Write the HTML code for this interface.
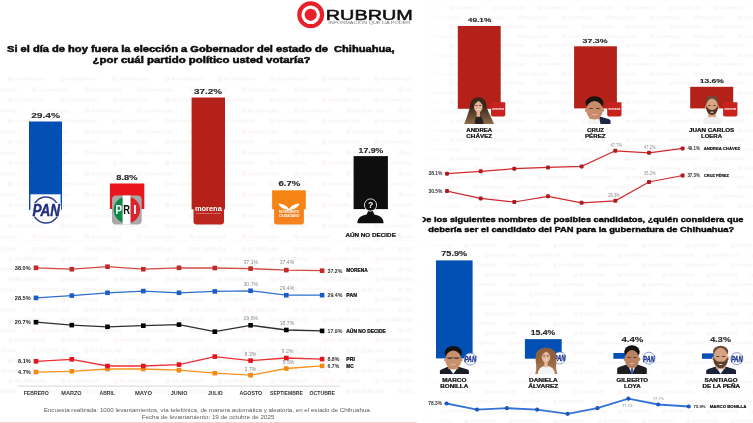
<!DOCTYPE html>
<html lang="es"><head><meta charset="utf-8"><title>Rubrum - Encuesta Chihuahua</title>
<style>html,body{margin:0;padding:0;background:#fff;}body{width:753px;height:423px;overflow:hidden;font-family:"Liberation Sans", sans-serif;}svg{display:block;font-family:"Liberation Sans", sans-serif;}</style>
</head><body>
<svg width="753" height="423" viewBox="0 0 753 423">
<defs>
<g id="wm"><circle cx="2.5" cy="0" r="1.9" fill="none" stroke="#f8d3d3" stroke-width="0.9"/><circle cx="2.5" cy="0" r="0.5" fill="#f8d3d3"/><text x="6.6" y="1.6" font-size="4.4" font-weight="normal" fill="#eadede" textLength="30.8" lengthAdjust="spacingAndGlyphs">RUBRUM</text></g>
<pattern id="wmL" x="0" y="68.5" width="52.4" height="21" patternUnits="userSpaceOnUse"><use href="#wm" x="7.4" y="10.5"/><use href="#wm" x="31.8" y="21"/><use href="#wm" x="31.8" y="0"/><use href="#wm" x="-20.6" y="21"/><use href="#wm" x="-20.6" y="0"/></pattern>
<pattern id="wmL2" x="0" y="310.15" width="52.4" height="20.3" patternUnits="userSpaceOnUse"><use href="#wm" x="8.2" y="10.15"/><use href="#wm" x="31.5" y="20.3"/><use href="#wm" x="31.5" y="0"/><use href="#wm" x="-20.9" y="20.3"/><use href="#wm" x="-20.9" y="0"/></pattern>
<pattern id="wmRT" x="581.5" y="3.285" width="44" height="18.86" patternUnits="userSpaceOnUse"><g transform="scale(0.84)"><use href="#wm" x="0" y="5.61"/><use href="#wm" x="28.7" y="16.84"/><use href="#wm" x="-23.7" y="16.84"/></g></pattern>
<pattern id="wmRB" x="597.5" y="241.1" width="44.4" height="19.5" patternUnits="userSpaceOnUse"><g transform="scale(0.84)"><use href="#wm" x="0" y="5.8"/><use href="#wm" x="24.2" y="17.4"/><use href="#wm" x="-28.7" y="17.4"/></g></pattern>
<linearGradient id="gPan" x1="0" x2="1" y1="0" y2="0"><stop offset="0" stop-color="#1558bd"/><stop offset="0.6" stop-color="#1551b0"/><stop offset="1" stop-color="#17479a"/></linearGradient>
<linearGradient id="fadeL" x1="0" x2="1" y1="0" y2="0"><stop offset="0" stop-color="#fff" stop-opacity="1"/><stop offset="1" stop-color="#fff" stop-opacity="0"/></linearGradient>
</defs>
<rect width="753" height="423" fill="#ffffff"/>
<rect x="0" y="72" width="414" height="168" fill="url(#wmL)" opacity="0.5"/>
<rect x="0" y="240" width="414" height="156" fill="url(#wmL2)" opacity="0.5"/>
<rect x="420" y="0" width="333" height="212" fill="url(#wmRT)" opacity="0.5"/>
<rect x="420" y="238" width="333" height="185" fill="url(#wmRB)" opacity="0.5"/>
<rect x="420" y="0" width="34" height="423" fill="url(#fadeL)"/>
<circle cx="310.7" cy="14.8" r="11.4" fill="none" stroke="#e8202a" stroke-width="4.2"/>
<circle cx="310.7" cy="14.8" r="6.1" fill="#e8202a"/>
<text x="325.8" y="19.6" font-size="14.4" font-weight="normal" text-anchor="start" fill="#111" stroke="#111" stroke-width="0.5" textLength="87" lengthAdjust="spacingAndGlyphs">RUBRUM</text>
<text x="328.3" y="24.3" font-size="3.4" font-weight="normal" text-anchor="start" fill="#777" textLength="82" lengthAdjust="spacingAndGlyphs">INFORMACIÓN QUE DA PODER</text>
<text x="7" y="51.9" font-size="9.1" font-weight="bold" text-anchor="start" fill="#0c0c0c" stroke="#0c0c0c" stroke-width="0.5" textLength="387.5" lengthAdjust="spacingAndGlyphs" xml:space="preserve">Si el día de hoy fuera la elección a Gobernador del estado de  Chihuahua,</text>
<text x="92.5" y="62.8" font-size="9.1" font-weight="bold" text-anchor="start" fill="#0c0c0c" stroke="#0c0c0c" stroke-width="0.5" textLength="218" lengthAdjust="spacingAndGlyphs">¿por cuál partido político usted votaría?</text>
<rect x="29" y="121.5" width="33" height="88.3" fill="#0350b5"/><rect x="29" y="121.5" width="0.8" height="88.3" fill="#134a95"/>
<path d="M30.4 194.3H60.600V210.5H30.4Z" fill="#ffffff"/>
<circle cx="45.9" cy="210.1" r="13" fill="none" stroke="#2b3f8e" stroke-width="1.5"/>
<rect x="31.5" y="203" width="29.6" height="13.6" fill="#fff"/>
<text x="32.5" y="216.1" font-size="17.2" font-weight="bold" text-anchor="start" fill="#232e80" stroke="#232e80" stroke-width="0.5" textLength="27.6" lengthAdjust="spacingAndGlyphs" font-style="italic">PAN</text>
<text x="31.2" y="117.6" font-size="7.0" font-weight="bold" text-anchor="start" fill="#2a2a2a" stroke="#2a2a2a" stroke-width="0.12" textLength="28.9" lengthAdjust="spacingAndGlyphs">29.4%</text>
<rect x="109.9" y="183.5" width="34.4" height="25.5" fill="#e8161c"/>
<clipPath id="cPri"><circle cx="126.9" cy="209.8" r="13.2"/></clipPath>
<rect x="112" y="195.5" width="29.7" height="29" rx="4" fill="#a8a8a8"/>
<g clip-path="url(#cPri)"><rect x="112" y="195" width="11" height="30" fill="#0c8a48"/><rect x="130.4" y="195" width="12" height="30" fill="#d9252b"/></g>
<rect x="122.6" y="195.5" width="7.8" height="29" fill="#ffffff"/>
<text x="115.4" y="214.2" font-size="12" font-weight="bold" text-anchor="start" fill="#fff" textLength="6.6" lengthAdjust="spacingAndGlyphs">P</text>
<text x="123.2" y="214.2" font-size="12" font-weight="bold" text-anchor="start" fill="#111" textLength="6.8" lengthAdjust="spacingAndGlyphs">R</text>
<text x="133.2" y="214.2" font-size="12" font-weight="bold" text-anchor="start" fill="#fff" textLength="3.4" lengthAdjust="spacingAndGlyphs">I</text>
<text x="116.2" y="179.7" font-size="7.0" font-weight="bold" text-anchor="start" fill="#2a2a2a" stroke="#2a2a2a" stroke-width="0.12" textLength="21.3" lengthAdjust="spacingAndGlyphs">8.8%</text>
<rect x="191.6" y="97.5" width="33.4" height="111.8" fill="#b42118"/>
<path d="M193.5 209H224V221.400a3 3 0 0 1 -3 3H196.500a3 3 0 0 1 -3 -3Z" fill="#bb271f"/>
<text x="194.9" y="211.1" font-size="7.6" font-weight="bold" text-anchor="start" fill="#fff" textLength="26.9" lengthAdjust="spacingAndGlyphs">morena</text>
<text x="196.2" y="213.8" font-size="2.0" font-weight="normal" text-anchor="start" fill="#f3d6d4" textLength="24.4" lengthAdjust="spacingAndGlyphs">La esperanza de México</text>
<text x="194" y="93.5" font-size="7.0" font-weight="bold" text-anchor="start" fill="#2a2a2a" stroke="#2a2a2a" stroke-width="0.12" textLength="28" lengthAdjust="spacingAndGlyphs">37.2%</text>
<rect x="272.1" y="190.3" width="33.7" height="19" fill="#f68414"/>
<path d="M274.1 209H303.900V222a2.500 2.500 0 0 1 -2.500 2.500H276.600a2.500 2.500 0 0 1 -2.500 -2.500Z" fill="#f5821f"/>
<path d="M278.400 203.400c3.500 0.200 6.600 1.300 8.400 3.100l2.200 2.600 2.200-2.600c1.800-1.800 4.900-2.900 8.400-3.100-1.200 3.200-4.400 5.700-8 6.200l-2.600 0.300-2.600-0.300c-3.600-0.500-6.800-3-8-6.200z" fill="#fff"/>
<text x="279" y="213.3" font-size="2.6" font-weight="bold" text-anchor="start" fill="#fff" textLength="20.2" lengthAdjust="spacingAndGlyphs">MOVIMIENTO</text>
<text x="279" y="216.9" font-size="3.1" font-weight="bold" text-anchor="start" fill="#fff" textLength="20.2" lengthAdjust="spacingAndGlyphs">CIUDADANO</text>
<text x="278.4" y="186.4" font-size="7.0" font-weight="bold" text-anchor="start" fill="#2a2a2a" stroke="#2a2a2a" stroke-width="0.12" textLength="21.9" lengthAdjust="spacingAndGlyphs">6.7%</text>
<rect x="353.6" y="156.100" width="34.3" height="53" fill="#0e0e0e"/>
<path d="M357.400 223.300c0-5.800 4.200-7.800 9.200-8.800l1.600-3.500h4.600l1.600 3.500c5 1 9.200 3 9.200 8.800z" fill="#0e0e0e"/>
<circle cx="370.500" cy="205" r="6.100" fill="#0e0e0e" stroke="#ffffff" stroke-width="0.8"/>
<text x="370.5" y="208.2" font-size="8.6" font-weight="bold" text-anchor="middle" fill="#fff">?</text>
<text x="358.6" y="152.5" font-size="7.0" font-weight="bold" text-anchor="start" fill="#2a2a2a" stroke="#2a2a2a" stroke-width="0.12" textLength="24.8" lengthAdjust="spacingAndGlyphs">17.9%</text>
<text x="345.4" y="237.0" font-size="5.8" font-weight="bold" text-anchor="start" fill="#111" stroke="#111" stroke-width="0.2" textLength="50.5" lengthAdjust="spacingAndGlyphs">AÚN NO DECIDE</text>
<line x1="17.5" y1="386.1" x2="340" y2="386.1" stroke="#cdcdcd" stroke-width="0.8"/>
<polyline points="36.0,267.8 71.8,269.2 107.5,266.7 143.3,269.2 179.0,267.8 214.8,268.0 250.6,268.6 286.3,270.1 322.1,270.7" fill="none" stroke="#d24a45" stroke-width="1.3"/>
<rect x="33.7" y="265.5" width="4.6" height="4.6" fill="#bf2a2a"/>
<rect x="69.5" y="266.9" width="4.6" height="4.6" fill="#bf2a2a"/>
<rect x="105.2" y="264.4" width="4.6" height="4.6" fill="#bf2a2a"/>
<rect x="141.0" y="266.9" width="4.6" height="4.6" fill="#bf2a2a"/>
<rect x="176.7" y="265.5" width="4.6" height="4.6" fill="#bf2a2a"/>
<rect x="212.5" y="265.7" width="4.6" height="4.6" fill="#bf2a2a"/>
<rect x="248.3" y="266.3" width="4.6" height="4.6" fill="#bf2a2a"/>
<rect x="284.0" y="267.8" width="4.6" height="4.6" fill="#bf2a2a"/>
<rect x="319.8" y="268.4" width="4.6" height="4.6" fill="#bf2a2a"/>
<polyline points="36.0,297.9 71.8,295.6 107.5,292.8 143.3,291.1 179.0,292.8 214.8,291.4 250.6,290.8 286.3,295.2 322.1,295.2" fill="none" stroke="#2f6fd0" stroke-width="1.3"/>
<rect x="33.7" y="295.6" width="4.6" height="4.6" fill="#1a5cc4"/>
<rect x="69.5" y="293.3" width="4.6" height="4.6" fill="#1a5cc4"/>
<rect x="105.2" y="290.5" width="4.6" height="4.6" fill="#1a5cc4"/>
<rect x="141.0" y="288.8" width="4.6" height="4.6" fill="#1a5cc4"/>
<rect x="176.7" y="290.5" width="4.6" height="4.6" fill="#1a5cc4"/>
<rect x="212.5" y="289.1" width="4.6" height="4.6" fill="#1a5cc4"/>
<rect x="248.3" y="288.5" width="4.6" height="4.6" fill="#1a5cc4"/>
<rect x="284.0" y="292.9" width="4.6" height="4.6" fill="#1a5cc4"/>
<rect x="319.8" y="292.9" width="4.6" height="4.6" fill="#1a5cc4"/>
<polyline points="36.0,322.2 71.8,325.1 107.5,326.8 143.3,325.7 179.0,324.6 214.8,331.7 250.6,325.3 286.3,330.0 322.1,330.9" fill="none" stroke="#2e2e2e" stroke-width="1.3"/>
<rect x="33.7" y="319.9" width="4.6" height="4.6" fill="#000000"/>
<rect x="69.5" y="322.8" width="4.6" height="4.6" fill="#000000"/>
<rect x="105.2" y="324.5" width="4.6" height="4.6" fill="#000000"/>
<rect x="141.0" y="323.4" width="4.6" height="4.6" fill="#000000"/>
<rect x="176.7" y="322.3" width="4.6" height="4.6" fill="#000000"/>
<rect x="212.5" y="329.4" width="4.6" height="4.6" fill="#000000"/>
<rect x="248.3" y="323.0" width="4.6" height="4.6" fill="#000000"/>
<rect x="284.0" y="327.7" width="4.6" height="4.6" fill="#000000"/>
<rect x="319.8" y="328.6" width="4.6" height="4.6" fill="#000000"/>
<polyline points="36.0,372.1 71.8,371.3 107.5,369.0 143.3,369.0 179.0,370.2 214.8,373.2 250.6,375.2 286.3,368.5 322.1,365.9" fill="none" stroke="#f7941d" stroke-width="1.3"/>
<rect x="33.7" y="369.8" width="4.6" height="4.6" fill="#f58a12"/>
<rect x="69.5" y="369.0" width="4.6" height="4.6" fill="#f58a12"/>
<rect x="105.2" y="366.7" width="4.6" height="4.6" fill="#f58a12"/>
<rect x="141.0" y="366.7" width="4.6" height="4.6" fill="#f58a12"/>
<rect x="176.7" y="367.9" width="4.6" height="4.6" fill="#f58a12"/>
<rect x="212.5" y="370.9" width="4.6" height="4.6" fill="#f58a12"/>
<rect x="248.3" y="372.9" width="4.6" height="4.6" fill="#f58a12"/>
<rect x="284.0" y="366.2" width="4.6" height="4.6" fill="#f58a12"/>
<rect x="319.8" y="363.6" width="4.6" height="4.6" fill="#f58a12"/>
<polyline points="36.0,361.3 71.8,359.3 107.5,366.0 143.3,366.0 179.0,364.6 214.8,356.6 250.6,360.6 286.3,358.0 322.1,359.1" fill="none" stroke="#ee2e36" stroke-width="1.3"/>
<rect x="33.7" y="359.0" width="4.6" height="4.6" fill="#e3141e"/>
<rect x="69.5" y="357.0" width="4.6" height="4.6" fill="#e3141e"/>
<rect x="105.2" y="363.7" width="4.6" height="4.6" fill="#e3141e"/>
<rect x="141.0" y="363.7" width="4.6" height="4.6" fill="#e3141e"/>
<rect x="176.7" y="362.3" width="4.6" height="4.6" fill="#e3141e"/>
<rect x="212.5" y="354.3" width="4.6" height="4.6" fill="#e3141e"/>
<rect x="248.3" y="358.3" width="4.6" height="4.6" fill="#e3141e"/>
<rect x="284.0" y="355.7" width="4.6" height="4.6" fill="#e3141e"/>
<rect x="319.8" y="356.8" width="4.6" height="4.6" fill="#e3141e"/>
<text x="14.8" y="269.7" font-size="5.2" font-weight="bold" text-anchor="start" fill="#222" textLength="15.8" lengthAdjust="spacingAndGlyphs">38.0%</text>
<text x="14.8" y="299.79999999999995" font-size="5.2" font-weight="bold" text-anchor="start" fill="#222" textLength="15.8" lengthAdjust="spacingAndGlyphs">28.5%</text>
<text x="14.8" y="324.09999999999997" font-size="5.2" font-weight="bold" text-anchor="start" fill="#222" textLength="15.8" lengthAdjust="spacingAndGlyphs">20.7%</text>
<text x="18" y="363.2" font-size="5.2" font-weight="bold" text-anchor="start" fill="#222" textLength="12.7" lengthAdjust="spacingAndGlyphs">8.1%</text>
<text x="18" y="374.0" font-size="5.2" font-weight="bold" text-anchor="start" fill="#222" textLength="12.7" lengthAdjust="spacingAndGlyphs">4.7%</text>
<text x="243.5" y="263.8" font-size="5.6" font-weight="normal" text-anchor="start" fill="#8a8a8a" textLength="14.6" lengthAdjust="spacingAndGlyphs">37.1%</text>
<text x="279.7" y="264.2" font-size="5.6" font-weight="normal" text-anchor="start" fill="#8a8a8a" textLength="14.6" lengthAdjust="spacingAndGlyphs">37.4%</text>
<text x="243.5" y="285.9" font-size="5.6" font-weight="normal" text-anchor="start" fill="#8a8a8a" textLength="14.6" lengthAdjust="spacingAndGlyphs">30.7%</text>
<text x="279.7" y="290.0" font-size="5.6" font-weight="normal" text-anchor="start" fill="#8a8a8a" textLength="14.6" lengthAdjust="spacingAndGlyphs">29.4%</text>
<text x="243.5" y="319.8" font-size="5.6" font-weight="normal" text-anchor="start" fill="#8a8a8a" textLength="14.6" lengthAdjust="spacingAndGlyphs">19.6%</text>
<text x="279.7" y="325.0" font-size="5.6" font-weight="normal" text-anchor="start" fill="#8a8a8a" textLength="14.6" lengthAdjust="spacingAndGlyphs">18.7%</text>
<text x="244.6" y="356.0" font-size="5.6" font-weight="normal" text-anchor="start" fill="#8a8a8a" textLength="11.8" lengthAdjust="spacingAndGlyphs">8.3%</text>
<text x="281.6" y="352.8" font-size="5.6" font-weight="normal" text-anchor="start" fill="#8a8a8a" textLength="11.8" lengthAdjust="spacingAndGlyphs">9.2%</text>
<text x="244.6" y="370.8" font-size="5.6" font-weight="normal" text-anchor="start" fill="#8a8a8a" textLength="11.8" lengthAdjust="spacingAndGlyphs">3.7%</text>
<text x="282.6" y="364.4" font-size="5.6" font-weight="normal" text-anchor="start" fill="#8a8a8a" textLength="11.8" lengthAdjust="spacingAndGlyphs">5.5%</text>
<text x="327.5" y="272.9" font-size="6.0" font-weight="bold" text-anchor="start" fill="#333" textLength="14.9" lengthAdjust="spacingAndGlyphs">37.2%</text>
<text x="346.3" y="272.4" font-size="4.8" font-weight="bold" text-anchor="start" fill="#0a0a0a" stroke="#0a0a0a" stroke-width="0.2" textLength="21.4" lengthAdjust="spacingAndGlyphs">MORENA</text>
<text x="327.5" y="297.4" font-size="6.0" font-weight="bold" text-anchor="start" fill="#333" textLength="14.9" lengthAdjust="spacingAndGlyphs">29.4%</text>
<text x="346.3" y="296.9" font-size="4.8" font-weight="bold" text-anchor="start" fill="#0a0a0a" stroke="#0a0a0a" stroke-width="0.2" textLength="10.6" lengthAdjust="spacingAndGlyphs">PAN</text>
<text x="327.5" y="333.09999999999997" font-size="6.0" font-weight="bold" text-anchor="start" fill="#333" textLength="14.9" lengthAdjust="spacingAndGlyphs">17.9%</text>
<text x="346.3" y="332.59999999999997" font-size="4.8" font-weight="bold" text-anchor="start" fill="#0a0a0a" stroke="#0a0a0a" stroke-width="0.2" textLength="39.5" lengthAdjust="spacingAndGlyphs">AÚN NO DECIDE</text>
<text x="327.5" y="361.3" font-size="6.0" font-weight="bold" text-anchor="start" fill="#333" textLength="11.9" lengthAdjust="spacingAndGlyphs">8.8%</text>
<text x="346.3" y="360.8" font-size="4.8" font-weight="bold" text-anchor="start" fill="#0a0a0a" stroke="#0a0a0a" stroke-width="0.2" textLength="8.5" lengthAdjust="spacingAndGlyphs">PRI</text>
<text x="327.5" y="368.09999999999997" font-size="6.0" font-weight="bold" text-anchor="start" fill="#333" textLength="11.9" lengthAdjust="spacingAndGlyphs">6.7%</text>
<text x="346.3" y="367.59999999999997" font-size="4.8" font-weight="bold" text-anchor="start" fill="#0a0a0a" stroke="#0a0a0a" stroke-width="0.2" textLength="7.2" lengthAdjust="spacingAndGlyphs">MC</text>
<text x="23.7" y="395.3" font-size="4.7" font-weight="bold" text-anchor="start" fill="#333" textLength="25.1" lengthAdjust="spacingAndGlyphs">FEBRERO</text>
<text x="61.3" y="395.3" font-size="4.7" font-weight="bold" text-anchor="start" fill="#333" textLength="20.4" lengthAdjust="spacingAndGlyphs">MARZO</text>
<text x="99.5" y="395.3" font-size="4.7" font-weight="bold" text-anchor="start" fill="#333" textLength="15.5" lengthAdjust="spacingAndGlyphs">ABRIL</text>
<text x="135" y="395.3" font-size="4.7" font-weight="bold" text-anchor="start" fill="#333" textLength="17" lengthAdjust="spacingAndGlyphs">MAYO</text>
<text x="170.7" y="395.3" font-size="4.7" font-weight="bold" text-anchor="start" fill="#333" textLength="16.7" lengthAdjust="spacingAndGlyphs">JUNIO</text>
<text x="207.9" y="395.3" font-size="4.7" font-weight="bold" text-anchor="start" fill="#333" textLength="14.9" lengthAdjust="spacingAndGlyphs">JULIO</text>
<text x="239.4" y="395.3" font-size="4.7" font-weight="bold" text-anchor="start" fill="#333" textLength="22.8" lengthAdjust="spacingAndGlyphs">AGOSTO</text>
<text x="270.1" y="395.3" font-size="4.7" font-weight="bold" text-anchor="start" fill="#333" textLength="32.7" lengthAdjust="spacingAndGlyphs">SEPTIEMBRE</text>
<text x="309.6" y="395.3" font-size="4.7" font-weight="bold" text-anchor="start" fill="#333" textLength="25.4" lengthAdjust="spacingAndGlyphs">OCTUBRE</text>
<text x="43.8" y="412.2" font-size="4.6" font-weight="normal" text-anchor="start" fill="#5a5a5a" textLength="327.7" lengthAdjust="spacingAndGlyphs">Encuesta realizada: 1000 levantamientos, vía telefónica, de manera automática y aleatoria, en el estado de Chihuahua.</text>
<text x="141.7" y="419.2" font-size="4.6" font-weight="normal" text-anchor="start" fill="#5a5a5a" textLength="132.8" lengthAdjust="spacingAndGlyphs">Fecha de levantamiento: 19 de octubre de 2025</text>
<rect x="0" y="421.9" width="416.5" height="1.1" fill="#f6d6d4"/>
<rect x="457.8" y="26" width="42.9" height="82.8" fill="#b42118"/>
<path d="M491 102.3h14.3v12.400a1.800 1.800 0 0 1 -1.800 1.800h-10.700a1.800 1.800 0 0 1 -1.800 -1.800z" fill="#c8221f"/>
<text x="492.3" y="109.89999999999999" font-size="3.4" font-weight="bold" text-anchor="start" fill="#fff" textLength="11.8" lengthAdjust="spacingAndGlyphs">morena</text>
<linearGradient id="h464" x1="0" x2="0" y1="0" y2="1"><stop offset="0.35" stop-color="#3b2519"/><stop offset="1" stop-color="#8d6a48"/></linearGradient>
<path d="M464.2 124.1C466.7 117.1 469.3 110.4 470.1 105.9C470.1 94.2 486.5 94.2 486.5 105.9C487.3 110.4 491.5 117.1 494.0 124.1Z" fill="url(#h464)"/>
<path d="M474.6 124.1Q475.1 116.2 478.3 115.2Q483.1 116.2 483.6 124.1Z" fill="#2a2121"/>
<rect x="476.6" y="106.4" width="3.4" height="10.4" fill="#e3b196"/>
<ellipse cx="478.3" cy="106.4" rx="4.3" ry="6.1" fill="#e3b196"/>
<path d="M473.7 107.4Q474.0 100.1 478.3 99.8Q482.6 100.1 482.9 107.4Q481.9 102.7 478.7 101.0Q474.7 102.7 473.7 107.4Z" fill="#3b2519"/>
<rect x="475.5" y="105.2" width="1.9" height="0.8" fill="#3a2a22"/><rect x="479.2" y="105.2" width="1.9" height="0.8" fill="#3a2a22"/>
<path d="M476.2 108.8Q478.3 111.3 480.4 108.8Q478.3 109.9 476.2 108.8Z" fill="#fbf3f0"/>
<text x="467.8" y="22.2" font-size="6.1" font-weight="bold" text-anchor="start" fill="#2a2a2a" stroke="#2a2a2a" stroke-width="0.12" textLength="23.6" lengthAdjust="spacingAndGlyphs">49.1%</text>
<text x="466.3" y="131.8" font-size="4.5" font-weight="bold" text-anchor="start" fill="#111" stroke="#111" stroke-width="0.2" textLength="25.9" lengthAdjust="spacingAndGlyphs">ANDREA</text>
<text x="466.3" y="137.8" font-size="4.5" font-weight="bold" text-anchor="start" fill="#111" stroke="#111" stroke-width="0.2" textLength="25.9" lengthAdjust="spacingAndGlyphs">CHÁVEZ</text>
<rect x="574.100" y="46.3" width="42.8" height="62.1" fill="#b42118"/>
<path d="M607.2 102.3h14.3v12.400a1.800 1.800 0 0 1 -1.800 1.800h-10.700a1.800 1.800 0 0 1 -1.800 -1.800z" fill="#c8221f"/>
<text x="608.5" y="109.89999999999999" font-size="3.4" font-weight="bold" text-anchor="start" fill="#fff" textLength="11.8" lengthAdjust="spacingAndGlyphs">morena</text>
<path d="M587.5 124.1V120.6Q587.8 119.6 589.5 119.1L588.4 116.8H600.7L608.5 119.1Q610.2 119.6 610.5 120.6V124.1Z" fill="#f3f3f3"/>
<path d="M600.5 124.1L599.0 116.8H600.7L608.5 119.1Q610.2 119.6 610.5 120.6V124.1Z" fill="#1f2745"/>
<rect x="589.2" y="110.2" width="10.6" height="8.7" fill="#c88c6a"/>
<ellipse cx="594.5" cy="102.8" rx="9.0" ry="6.5" fill="#17130f"/>
<ellipse cx="585.9" cy="110.2" rx="0.9" ry="1.8" fill="#c88c6a"/><ellipse cx="603.2" cy="110.2" rx="0.9" ry="1.8" fill="#c88c6a"/>
<ellipse cx="594.5" cy="110.2" rx="8.3" ry="9.2" fill="#c88c6a"/>
<rect x="589.4" y="108.1" width="3.5" height="0.8" fill="#3a2a22"/><rect x="596.2" y="108.1" width="3.5" height="0.8" fill="#3a2a22"/>
<path d="M591.2 114.0Q594.5 116.6 597.9 114.0Q594.5 115.2 591.2 114.0Z" fill="#ecd9d0"/>
<text x="582.6" y="42.5" font-size="6.1" font-weight="bold" text-anchor="start" fill="#2a2a2a" stroke="#2a2a2a" stroke-width="0.12" textLength="25.0" lengthAdjust="spacingAndGlyphs">37.3%</text>
<text x="587.1" y="131.8" font-size="4.5" font-weight="bold" text-anchor="start" fill="#111" stroke="#111" stroke-width="0.2" textLength="17.0" lengthAdjust="spacingAndGlyphs">CRUZ</text>
<text x="585" y="137.8" font-size="4.5" font-weight="bold" text-anchor="start" fill="#111" stroke="#111" stroke-width="0.2" textLength="20.5" lengthAdjust="spacingAndGlyphs">PÉREZ</text>
<rect x="690.2" y="86.8" width="43" height="21.6" fill="#b42118"/>
<path d="M723.1 102.3h14.3v12.400a1.800 1.800 0 0 1 -1.800 1.800h-10.700a1.800 1.800 0 0 1 -1.800 -1.800z" fill="#c8221f"/>
<text x="724.4" y="109.89999999999999" font-size="3.4" font-weight="bold" text-anchor="start" fill="#fff" textLength="11.8" lengthAdjust="spacingAndGlyphs">morena</text>
<path d="M703.3 124.1V118.8Q703.6 117.8 705.3 117.3L707.6 115.0H716.5L718.7 117.3Q720.4 117.8 720.7 118.8V124.1Z" fill="#f1f1f1"/>
<rect x="708.2" y="107.1" width="7.6" height="10.0" fill="#dba688"/>
<ellipse cx="712.0" cy="100.9" rx="6.3" ry="5.3" fill="#6b4a36"/>
<ellipse cx="705.9" cy="107.1" rx="0.9" ry="1.8" fill="#dba688"/><ellipse cx="718.2" cy="107.1" rx="0.9" ry="1.8" fill="#dba688"/>
<ellipse cx="712.0" cy="107.1" rx="6.0" ry="8.7" fill="#dba688"/>
<path d="M706.1 107.5A6.0 8.7 0 0 0 718.0 107.5L717.7 105.5Q715.3 110.8 712.0 109.7Q708.8 110.8 706.4 105.5Z" fill="#4b3325"/>
<ellipse cx="712.0" cy="112.2" rx="1.7" ry="0.6" fill="#ecd5c6"/>
<rect x="708.3" y="105.2" width="2.5" height="0.8" fill="#3a2a22"/><rect x="713.2" y="105.2" width="2.5" height="0.8" fill="#3a2a22"/>
<text x="699.7" y="82.8" font-size="6.1" font-weight="bold" text-anchor="start" fill="#2a2a2a" stroke="#2a2a2a" stroke-width="0.12" textLength="24.2" lengthAdjust="spacingAndGlyphs">13.6%</text>
<text x="689" y="131.8" font-size="4.5" font-weight="bold" text-anchor="start" fill="#111" stroke="#111" stroke-width="0.2" textLength="45.3" lengthAdjust="spacingAndGlyphs">JUAN CARLOS</text>
<text x="701" y="137.8" font-size="4.5" font-weight="bold" text-anchor="start" fill="#111" stroke="#111" stroke-width="0.2" textLength="21" lengthAdjust="spacingAndGlyphs">LOERA</text>
<polyline points="447.0,173.7 480.7,171.3 514.3,168.7 548.0,167.4 581.6,166.4 615.3,150.8 649.0,152.8 682.6,148.4" fill="none" stroke="#d02a2e" stroke-width="1.2"/>
<rect x="445.0" y="171.7" width="4" height="4" rx="1.100" fill="#b31a20"/>
<rect x="478.7" y="169.3" width="4" height="4" rx="1.100" fill="#b31a20"/>
<rect x="512.3" y="166.7" width="4" height="4" rx="1.100" fill="#b31a20"/>
<rect x="546.0" y="165.4" width="4" height="4" rx="1.100" fill="#b31a20"/>
<rect x="579.6" y="164.4" width="4" height="4" rx="1.100" fill="#b31a20"/>
<rect x="613.3" y="148.8" width="4" height="4" rx="1.100" fill="#b31a20"/>
<rect x="647.0" y="150.8" width="4" height="4" rx="1.100" fill="#b31a20"/>
<rect x="680.6" y="146.4" width="4" height="4" rx="1.100" fill="#b31a20"/>
<polyline points="447.0,191.1 480.7,198.4 514.3,202.0 548.0,196.3 581.6,202.8 615.3,200.8 649.0,182.0 682.6,175.5" fill="none" stroke="#d02a2e" stroke-width="1.2"/>
<rect x="445.0" y="189.1" width="4" height="4" rx="1.100" fill="#b31a20"/>
<rect x="478.7" y="196.4" width="4" height="4" rx="1.100" fill="#b31a20"/>
<rect x="512.3" y="200.0" width="4" height="4" rx="1.100" fill="#b31a20"/>
<rect x="546.0" y="194.3" width="4" height="4" rx="1.100" fill="#b31a20"/>
<rect x="579.6" y="200.8" width="4" height="4" rx="1.100" fill="#b31a20"/>
<rect x="613.3" y="198.8" width="4" height="4" rx="1.100" fill="#b31a20"/>
<rect x="647.0" y="180.0" width="4" height="4" rx="1.100" fill="#b31a20"/>
<rect x="680.6" y="173.5" width="4" height="4" rx="1.100" fill="#b31a20"/>
<text x="428.5" y="175.2" font-size="4.5" font-weight="bold" text-anchor="start" fill="#333" textLength="14" lengthAdjust="spacingAndGlyphs">38.1%</text>
<text x="428.5" y="192.6" font-size="4.5" font-weight="bold" text-anchor="start" fill="#333" textLength="14" lengthAdjust="spacingAndGlyphs">30.5%</text>
<text x="610.6" y="147.29999999999998" font-size="4.8" font-weight="normal" text-anchor="start" fill="#8a8a8a" textLength="11.4" lengthAdjust="spacingAndGlyphs">47.7%</text>
<text x="644.1" y="148.79999999999998" font-size="4.8" font-weight="normal" text-anchor="start" fill="#8a8a8a" textLength="11.4" lengthAdjust="spacingAndGlyphs">47.2%</text>
<text x="644.1" y="174.79999999999998" font-size="4.8" font-weight="normal" text-anchor="start" fill="#8a8a8a" textLength="11.4" lengthAdjust="spacingAndGlyphs">35.2%</text>
<text x="608.3" y="197.2" font-size="4.8" font-weight="normal" text-anchor="start" fill="#8a8a8a" textLength="11.4" lengthAdjust="spacingAndGlyphs">26.3%</text>
<text x="687.4" y="150.0" font-size="4.8" font-weight="bold" text-anchor="start" fill="#333" textLength="12.4" lengthAdjust="spacingAndGlyphs">49.1%</text>
<text x="703.7" y="149.7" font-size="3.9" font-weight="bold" text-anchor="start" fill="#0a0a0a" stroke="#0a0a0a" stroke-width="0.15" textLength="36.5" lengthAdjust="spacingAndGlyphs">ANDREA CHÁVEZ</text>
<text x="687.4" y="177.1" font-size="4.8" font-weight="bold" text-anchor="start" fill="#333" textLength="12.4" lengthAdjust="spacingAndGlyphs">37.3%</text>
<text x="704" y="176.8" font-size="3.9" font-weight="bold" text-anchor="start" fill="#0a0a0a" stroke="#0a0a0a" stroke-width="0.15" textLength="25" lengthAdjust="spacingAndGlyphs">CRUZ PÉREZ</text>
<clipPath id="cT"><rect x="422.6" y="210" width="331" height="30"/></clipPath>
<g clip-path="url(#cT)">
<text x="419.5" y="222.4" font-size="8.0" font-weight="bold" text-anchor="start" fill="#0c0c0c" stroke="#0c0c0c" stroke-width="0.42" textLength="324" lengthAdjust="spacingAndGlyphs">De los siguientes nombres de posibles candidatos, ¿quién considera que</text>
</g>
<text x="428.3" y="231.8" font-size="8.0" font-weight="bold" text-anchor="start" fill="#0c0c0c" stroke="#0c0c0c" stroke-width="0.42" textLength="306" lengthAdjust="spacingAndGlyphs">debería ser el candidato del PAN para la gubernatura de Chihuahua?</text>
<rect x="436" y="260.4" width="36.6" height="98" fill="#0250b4"/>
<circle cx="470.3" cy="359.1" r="6.0" fill="#ffffff" stroke="#5577c4" stroke-width="0.7"/>
<text x="464.40000000000003" y="362.40000000000003" font-size="9.2" font-weight="bold" text-anchor="start" fill="#1f3690" stroke="#1f3690" stroke-width="0.4" textLength="11.6" lengthAdjust="spacingAndGlyphs" font-style="italic">PAN</text>
<path d="M439.9 374.0V370.8Q440.2 369.8 441.9 369.3L447.4 367.0H459.2L466.9 369.3Q468.6 369.8 468.9 370.8V374.0Z" fill="#1a1c26"/>
<path d="M448.6 367.6L453.3 374.0L458.0 367.6Z" fill="#f0f0f0"/>
<rect x="448.2" y="359.9" width="10.2" height="9.2" fill="#c9906e"/>
<ellipse cx="453.3" cy="352.5" rx="8.7" ry="6.5" fill="#15120f"/>
<ellipse cx="445.0" cy="359.9" rx="0.9" ry="1.8" fill="#c9906e"/><ellipse cx="461.6" cy="359.9" rx="0.9" ry="1.8" fill="#c9906e"/>
<ellipse cx="453.3" cy="359.9" rx="8.0" ry="9.3" fill="#c9906e"/>
<rect x="448.3" y="357.9" width="3.4" height="0.8" fill="#3a2a22"/><rect x="454.9" y="357.9" width="3.4" height="0.8" fill="#3a2a22"/>
<rect x="446.9" y="357.6" width="12.8" height="0.6" fill="#222"/>
<path d="M450.1 363.8Q453.3 366.4 456.5 363.8Q453.3 365.0 450.1 363.8Z" fill="#ecd9d0"/>
<text x="441.3" y="256.3" font-size="6.4" font-weight="bold" text-anchor="start" fill="#2a2a2a" stroke="#2a2a2a" stroke-width="0.12" textLength="25.8" lengthAdjust="spacingAndGlyphs">75.9%</text>
<text x="442.3" y="381.7" font-size="4.5" font-weight="bold" text-anchor="start" fill="#111" stroke="#111" stroke-width="0.2" textLength="24.1" lengthAdjust="spacingAndGlyphs">MARCO</text>
<text x="440.2" y="387.8" font-size="4.5" font-weight="bold" text-anchor="start" fill="#111" stroke="#111" stroke-width="0.2" textLength="28.0" lengthAdjust="spacingAndGlyphs">BONILLA</text>
<rect x="524.9" y="339.100" width="36.8" height="19.6" fill="#0250b4"/>
<circle cx="559.7" cy="357.9" r="6.0" fill="#ffffff" stroke="#5577c4" stroke-width="0.7"/>
<text x="553.8000000000001" y="361.2" font-size="9.2" font-weight="bold" text-anchor="start" fill="#1f3690" stroke="#1f3690" stroke-width="0.4" textLength="11.6" lengthAdjust="spacingAndGlyphs" font-style="italic">PAN</text>
<linearGradient id="h535" x1="0" x2="0" y1="0" y2="1"><stop offset="0.35" stop-color="#8f5f3c"/><stop offset="1" stop-color="#b07f55"/></linearGradient>
<path d="M535.2 374.0C537.7 367.0 534.9 360.8 535.7 356.3C535.7 344.8 556.3 344.8 556.3 356.3C557.1 360.8 554.9 367.0 557.4 374.0Z" fill="url(#h535)"/>
<path d="M537.8 374.0Q538.3 366.6 546.0 365.6Q554.3 366.6 554.8 374.0Z" fill="#f4f4f4"/>
<rect x="544.3" y="356.8" width="3.4" height="10.4" fill="#e7b79a"/>
<ellipse cx="546.0" cy="356.8" rx="4.3" ry="6.1" fill="#e7b79a"/>
<path d="M541.4 357.8Q541.7 350.5 546.0 350.2Q550.3 350.5 550.6 357.8Q549.6 353.1 546.4 351.4Q542.4 353.1 541.4 357.8Z" fill="#8f5f3c"/>
<rect x="543.2" y="355.6" width="1.9" height="0.8" fill="#3a2a22"/><rect x="546.9" y="355.6" width="1.9" height="0.8" fill="#3a2a22"/>
<path d="M543.9 359.2Q546.0 361.7 548.1 359.2Q546.0 360.3 543.9 359.2Z" fill="#fbf3f0"/>
<text x="530.7" y="334.7" font-size="6.4" font-weight="bold" text-anchor="start" fill="#2a2a2a" stroke="#2a2a2a" stroke-width="0.12" textLength="24.5" lengthAdjust="spacingAndGlyphs">15.4%</text>
<text x="529" y="381.7" font-size="4.5" font-weight="bold" text-anchor="start" fill="#111" stroke="#111" stroke-width="0.2" textLength="28.7" lengthAdjust="spacingAndGlyphs">DANIELA</text>
<text x="528.2" y="387.8" font-size="4.5" font-weight="bold" text-anchor="start" fill="#111" stroke="#111" stroke-width="0.2" textLength="30.2" lengthAdjust="spacingAndGlyphs">ÁLVAREZ</text>
<rect x="613.4" y="353" width="12.5" height="5.8" fill="#0250b4"/>
<circle cx="649" cy="358.2" r="6.0" fill="#ffffff" stroke="#5577c4" stroke-width="0.7"/>
<text x="643.1" y="361.5" font-size="9.2" font-weight="bold" text-anchor="start" fill="#1f3690" stroke="#1f3690" stroke-width="0.4" textLength="11.6" lengthAdjust="spacingAndGlyphs" font-style="italic">PAN</text>
<path d="M617.2 374.0V368.4Q617.5 367.4 619.2 366.9L626.7 364.6H637.3L644.8 366.9Q646.5 367.4 646.8 368.4V374.0Z" fill="#1e1e22"/>
<path d="M627.8 365.2L632.0 374.0L636.2 365.2Z" fill="#f0f0f0"/>
<path d="M631.2 366.2h1.600l0.500 7.8h-2.600z" fill="#3a5a9a"/>
<rect x="627.4" y="359.2" width="9.1" height="7.5" fill="#b98263"/>
<ellipse cx="632.0" cy="351.8" rx="7.8" ry="6.5" fill="#15120f"/>
<ellipse cx="624.6" cy="359.2" rx="0.9" ry="1.8" fill="#b98263"/><ellipse cx="639.4" cy="359.2" rx="0.9" ry="1.8" fill="#b98263"/>
<ellipse cx="632.0" cy="359.2" rx="7.1" ry="9.2" fill="#b98263"/>
<rect x="627.6" y="357.1" width="3.0" height="0.8" fill="#3a2a22"/><rect x="633.4" y="357.1" width="3.0" height="0.8" fill="#3a2a22"/>
<path d="M629.1 363.0Q632.0 365.6 634.9 363.0Q632.0 364.2 629.1 363.0Z" fill="#ecd9d0"/>
<text x="621.5" y="341.7" font-size="6.4" font-weight="bold" text-anchor="start" fill="#2a2a2a" stroke="#2a2a2a" stroke-width="0.12" textLength="21.9" lengthAdjust="spacingAndGlyphs">4.4%</text>
<text x="616.6" y="381.7" font-size="4.5" font-weight="bold" text-anchor="start" fill="#111" stroke="#111" stroke-width="0.2" textLength="31.4" lengthAdjust="spacingAndGlyphs">GILBERTO</text>
<text x="624" y="387.8" font-size="4.5" font-weight="bold" text-anchor="start" fill="#111" stroke="#111" stroke-width="0.2" textLength="16.6" lengthAdjust="spacingAndGlyphs">LOYA</text>
<rect x="702" y="353.4" width="12.5" height="5.4" fill="#0250b4"/>
<circle cx="736.8" cy="358.6" r="6.0" fill="#ffffff" stroke="#5577c4" stroke-width="0.7"/>
<text x="730.9" y="361.90000000000003" font-size="9.2" font-weight="bold" text-anchor="start" fill="#1f3690" stroke="#1f3690" stroke-width="0.4" textLength="11.6" lengthAdjust="spacingAndGlyphs" font-style="italic">PAN</text>
<path d="M706.2 374.0V370.6Q706.5 369.6 708.2 369.1L715.2 366.8H726.1L734.0 369.1Q735.7 369.6 736.0 370.6V374.0Z" fill="#1d2238"/>
<path d="M716.3 367.4L720.6 374.0L725.0 367.4Z" fill="#f0f0f0"/>
<rect x="715.9" y="358.4" width="9.4" height="10.5" fill="#d6a383"/>
<ellipse cx="720.6" cy="351.5" rx="7.6" ry="5.8" fill="#6a4a32"/>
<ellipse cx="713.0" cy="358.4" rx="0.9" ry="1.8" fill="#d6a383"/><ellipse cx="728.3" cy="358.4" rx="0.9" ry="1.8" fill="#d6a383"/>
<ellipse cx="720.6" cy="358.4" rx="7.4" ry="10.6" fill="#d6a383"/>
<path d="M713.3 358.9A7.4 10.6 0 0 0 728.0 358.9L727.7 356.9Q724.7 362.9 720.6 361.6Q716.6 362.9 713.6 356.9Z" fill="#5b3e2b"/>
<ellipse cx="720.6" cy="364.5" rx="2.1" ry="0.6" fill="#ecd5c6"/>
<rect x="716.1" y="356.1" width="3.1" height="0.8" fill="#3a2a22"/><rect x="722.1" y="356.1" width="3.1" height="0.8" fill="#3a2a22"/>
<text x="710.3" y="342.4" font-size="6.4" font-weight="bold" text-anchor="start" fill="#2a2a2a" stroke="#2a2a2a" stroke-width="0.12" textLength="20.7" lengthAdjust="spacingAndGlyphs">4.3%</text>
<text x="704.5" y="381.7" font-size="4.5" font-weight="bold" text-anchor="start" fill="#111" stroke="#111" stroke-width="0.2" textLength="33.1" lengthAdjust="spacingAndGlyphs">SANTIAGO</text>
<text x="702.4" y="387.8" font-size="4.5" font-weight="bold" text-anchor="start" fill="#111" stroke="#111" stroke-width="0.2" textLength="37.6" lengthAdjust="spacingAndGlyphs">DE LA PEÑA</text>
<polyline points="446.5,403.5 477.0,409.6 506.9,408.2 537.1,409.6 567.6,413.8 597.4,408.2 628.3,398.7 658.2,404.5 688.7,406.5" fill="none" stroke="#3573d6" stroke-width="1.8"/>
<circle cx="446.5" cy="403.5" r="2.100" fill="#1d56bd"/>
<circle cx="477.0" cy="409.6" r="2.100" fill="#1d56bd"/>
<circle cx="506.9" cy="408.2" r="2.100" fill="#1d56bd"/>
<circle cx="537.1" cy="409.6" r="2.100" fill="#1d56bd"/>
<circle cx="567.6" cy="413.8" r="2.100" fill="#1d56bd"/>
<circle cx="597.4" cy="408.2" r="2.100" fill="#1d56bd"/>
<circle cx="628.3" cy="398.7" r="2.100" fill="#1d56bd"/>
<circle cx="658.2" cy="404.5" r="2.100" fill="#1d56bd"/>
<circle cx="688.7" cy="406.5" r="2.100" fill="#1d56bd"/>
<text x="428.3" y="405.1" font-size="4.5" font-weight="bold" text-anchor="start" fill="#333" textLength="13.6" lengthAdjust="spacingAndGlyphs">78.3%</text>
<text x="622.3" y="406.6" font-size="4.3" font-weight="normal" text-anchor="start" fill="#8a8a8a" textLength="10.4" lengthAdjust="spacingAndGlyphs">77.1%</text>
<text x="652.9" y="399.9" font-size="4.3" font-weight="normal" text-anchor="start" fill="#8a8a8a" textLength="11.2" lengthAdjust="spacingAndGlyphs">77.7%</text>
<text x="693.5" y="408.0" font-size="4.4" font-weight="bold" text-anchor="start" fill="#222" textLength="12.2" lengthAdjust="spacingAndGlyphs">75.9%</text>
<text x="709.8" y="407.9" font-size="3.8" font-weight="bold" text-anchor="start" fill="#0a0a0a" stroke="#0a0a0a" stroke-width="0.15" textLength="36.5" lengthAdjust="spacingAndGlyphs">MARCO BONILLA</text>
</svg>
</body></html>
